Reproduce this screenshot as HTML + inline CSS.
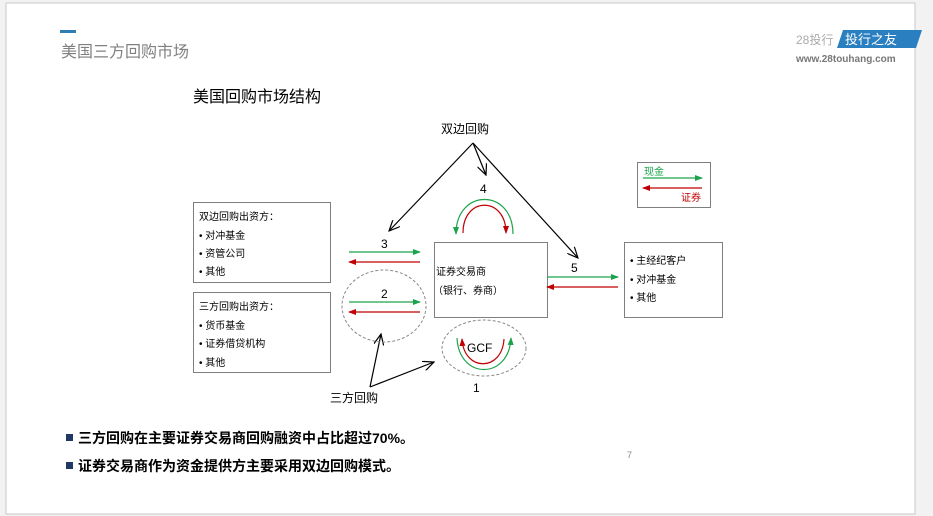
<!DOCTYPE html>
<html><head><meta charset="utf-8"><style>
body{margin:0;background:#f2f2f2;}
svg{display:block;font-family:"Liberation Sans","Noto Sans CJK SC",sans-serif;}
</style></head><body>
<svg width="933" height="516" viewBox="0 0 933 516" xmlns="http://www.w3.org/2000/svg">
<defs>
<marker id="g" markerWidth="8" markerHeight="6" refX="7" refY="3" orient="auto" markerUnits="userSpaceOnUse"><path d="M0,0 L8,3 L0,6 z" fill="#1aa34a"/></marker>
<marker id="r" markerWidth="8" markerHeight="6" refX="7" refY="3" orient="auto" markerUnits="userSpaceOnUse"><path d="M0,0 L8,3 L0,6 z" fill="#c00000"/></marker>
<marker id="k" markerWidth="12" markerHeight="10" refX="11" refY="5" orient="auto" markerUnits="userSpaceOnUse"><path d="M0,0 L11,5 L0,10" fill="none" stroke="#000" stroke-width="1.2"/></marker>
</defs>
<rect x="6" y="3" width="909" height="511" fill="#fff" stroke="#c8c8c8"/>
<rect x="60" y="30" width="16" height="3" fill="#2e7db5"/>
<text x="61" y="57" font-size="16" fill="#808080">美国三方回购市场</text>
<text x="796" y="44" font-size="12" fill="#aaa">28投行</text>
<polygon points="843,30 922,30 916,48 837,48" fill="#2a7fc0"/>
<text x="845" y="44" font-size="13" fill="#fff">投行之友</text>
<text x="796" y="62" font-size="10" font-weight="bold" fill="#777">www.28touhang.com</text>
<text x="193" y="102" font-size="16" fill="#000">美国回购市场结构</text>
<text x="441" y="133" font-size="12">双边回购</text>
<g stroke="#000" stroke-width="1.2" fill="none">
<line x1="473" y1="143" x2="389" y2="231" marker-end="url(#k)"/>
<line x1="473" y1="143" x2="486" y2="175" marker-end="url(#k)"/>
<line x1="473" y1="143" x2="578" y2="258" marker-end="url(#k)"/>
<line x1="370" y1="387" x2="381" y2="334" marker-end="url(#k)"/>
<line x1="370" y1="387" x2="434" y2="362" marker-end="url(#k)"/>
</g>
<text x="480" y="193" font-size="12">4</text>
<text x="381" y="248" font-size="12">3</text>
<text x="381" y="298" font-size="12">2</text>
<text x="571" y="272" font-size="12">5</text>
<text x="473" y="392" font-size="12">1</text>
<text x="330" y="402" font-size="12">三方回购</text>
<g fill="#fff" stroke="#7f7f7f" stroke-width="1">
<rect x="193.5" y="202.5" width="137" height="80"/>
<rect x="193.5" y="292.5" width="137" height="80"/>
<rect x="434.5" y="242.5" width="113" height="75"/>
<rect x="624.5" y="242.5" width="98" height="75"/>
<rect x="637.5" y="162.5" width="73" height="45"/>
</g>
<g fill="none" stroke="#888" stroke-dasharray="3,2">
<ellipse cx="384" cy="306" rx="42" ry="36"/>
<ellipse cx="484" cy="348" rx="42" ry="28"/>
</g>
<g font-size="10" fill="#000">
<text x="199" y="220">双边回购出资方：</text>
<text x="199" y="239">• 对冲基金</text>
<text x="199" y="257">• 资管公司</text>
<text x="199" y="275">• 其他</text>
<text x="199" y="310">三方回购出资方：</text>
<text x="199" y="329">• 货币基金</text>
<text x="199" y="347">• 证券借贷机构</text>
<text x="199" y="366">• 其他</text>
<text x="436" y="275">证券交易商</text>
<text x="433" y="294">（银行、券商）</text>
<text x="630" y="264">• 主经纪客户</text>
<text x="630" y="283">• 对冲基金</text>
<text x="630" y="301">• 其他</text>
</g>
<text x="644" y="175" font-size="10" fill="#1aa34a">现金</text>
<text x="681" y="201" font-size="10" fill="#c00000">证券</text>
<g stroke-width="1.2" fill="none">
<line x1="643" y1="178" x2="702" y2="178" stroke="#1aa34a" marker-end="url(#g)"/>
<line x1="702" y1="188" x2="643" y2="188" stroke="#c00000" marker-end="url(#r)"/>
<line x1="349" y1="252" x2="420" y2="252" stroke="#1aa34a" marker-end="url(#g)"/>
<line x1="420" y1="262" x2="349" y2="262" stroke="#c00000" marker-end="url(#r)"/>
<line x1="349" y1="302" x2="420" y2="302" stroke="#1aa34a" marker-end="url(#g)"/>
<line x1="420" y1="312" x2="349" y2="312" stroke="#c00000" marker-end="url(#r)"/>
<line x1="547" y1="277" x2="618" y2="277" stroke="#1aa34a" marker-end="url(#g)"/>
<line x1="618" y1="287" x2="547" y2="287" stroke="#c00000" marker-end="url(#r)"/>
<path d="M513,234 C513,188 456,188 456,234" stroke="#1aa34a" marker-end="url(#g)"/>
<path d="M463,233 C463,196 506,196 506,233" stroke="#c00000" marker-end="url(#r)"/>
<path d="M457,338 C459,380 509,380 511,338" stroke="#1aa34a" marker-end="url(#g)"/>
<path d="M504,339 C502,372 464,372 462,339" stroke="#c00000" marker-end="url(#r)"/>
</g>
<text x="467" y="352" font-size="12">GCF</text>
<rect x="66" y="434" width="7" height="7" fill="#1f3864"/>
<text x="78" y="443" font-size="14" font-weight="bold">三方回购在主要证券交易商回购融资中占比超过70%。</text>
<rect x="66" y="462" width="7" height="7" fill="#1f3864"/>
<text x="78" y="471" font-size="14" font-weight="bold">证券交易商作为资金提供方主要采用双边回购模式。</text>
<text x="627" y="458" font-size="9" fill="#888">7</text>
</svg>
</body></html>
